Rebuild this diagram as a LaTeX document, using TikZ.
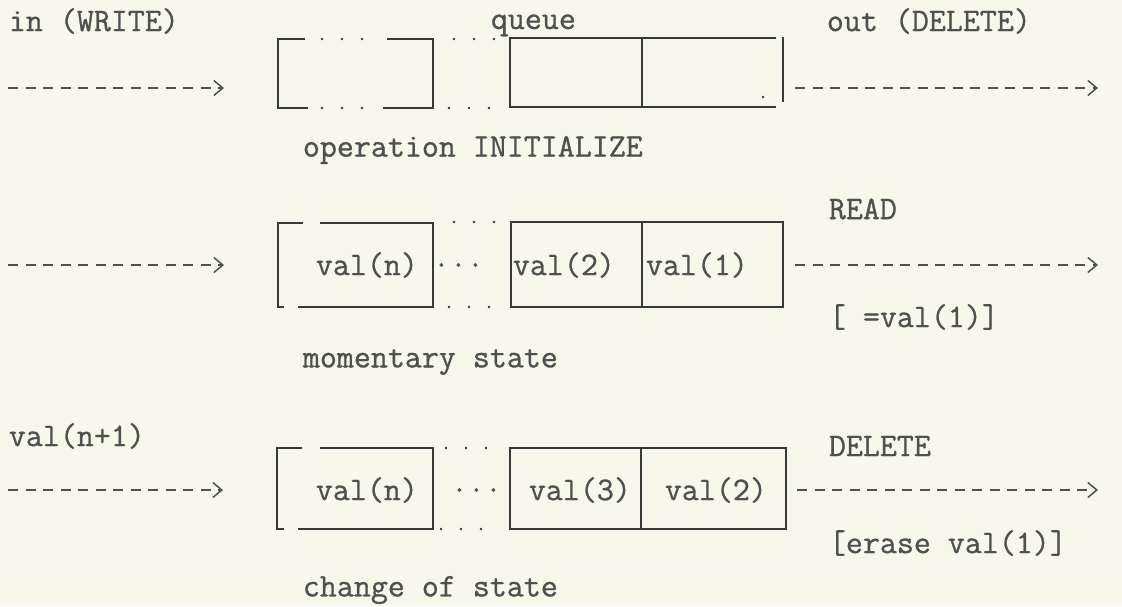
\documentclass[tikz,border=0pt]{standalone}
\usepackage{fontspec}
\setmonofont{Latin Modern Mono}[FakeBold=0.9]
\usetikzlibrary{arrows.meta}
\definecolor{paper}{HTML}{F8F7EC}
\definecolor{ink}{HTML}{383838}
\definecolor{txt}{HTML}{505050}
\begin{document}
\begin{tikzpicture}[x=1pt,y=-1pt,color=ink,line width=1.8pt,
	lbl/.style={font=\ttfamily\fontsize{33}{35}\selectfont,text=txt,inner sep=0pt,anchor=west},
	typed/.style={color=txt,line width=1.5pt,dash pattern=on 10pt off 7.5pt,-{Straight Barb[length=9pt,width=15pt,line width=1.5pt]}},
	dots/.style={line width=2.8pt,line cap=round,dash pattern=on 0pt off 20pt}]
	\fill[paper] (0,0) rectangle (1122,606);
	\useasboundingbox (0,0) rectangle (1122,606);
	% row 1: empty queue
	\node[lbl] (inW) at (8,21) {in (WRITE)};
	\node[lbl,anchor=base west] (qname) at (490,29) {queue};
	\node[lbl] (outD) at (826,21) {out (DELETE)};
	\coordinate (src1) at (8,88);
	\coordinate (qa1) at (278,88);
	\coordinate (qb1) at (783,88);
	\coordinate (snk1) at (1098,88);
	\draw (305,39) -- (278,39) -- (278,108) -- (308,108);
	\draw (387,39) -- (433,39) -- (433,108) -- (383,108);
	\draw[dots] (322,39) -- (364,39);
	\draw[dots] (322,108) -- (364,108);
	\draw[dots] (454,39) -- (496,39);
	\draw[dots] (449,108) -- (491,108);
	\draw (776,38) -- (510,38) -- (510,107) -- (776,107);
	\draw (642,38) -- (642,107);
	\draw (783,37) -- (783,102);
	\fill (763,97) circle (1.3pt);
	\draw[typed,shorten >=54pt] (src1) -- (qa1);
	\draw[typed,shorten <=12pt] (qb1) -- (snk1);
	\node[lbl] (opInit) at (302,150) {operation INITIALIZE};
	% row 2: momentary state
	\node[lbl] (rd) at (828,209) {READ};
	\coordinate (src2) at (8,265);
	\coordinate (qa2) at (278,265);
	\coordinate (qb2) at (783,265);
	\coordinate (snk2) at (1098,265);
	\draw (303,223) -- (278,223) -- (278,307) -- (284,307);
	\draw (320,223) -- (433,223) -- (433,307) -- (298,307);
	\draw[dots] (454,222) -- (496,222);
	\draw[dots] (449,307) -- (491,307);
	\draw (511,222) rectangle (783,307);
	\draw (642,222) -- (642,307);
	\node[lbl] (v2n) at (315,265) {val(n)};
	\node[lbl] (gap2) at (432,265) {...};
	\node[lbl] (v22) at (512,265) {val(2)};
	\node[lbl] (v21) at (645,265) {val(1)};
	\draw[typed,shorten >=54pt] (src2) -- (qa2);
	\draw[typed,shorten <=12pt] (qb2) -- (snk2);
	\node[lbl] (rdval) at (828,317) {[ =val(1)]};
	\node[lbl] (mom) at (302,362) {momentary state};
	% row 3: change of state
	\node[lbl] (vnew) at (8,436) {val(n+1)};
	\node[lbl] (del) at (828,446) {DELETE};
	\coordinate (src3) at (8,490);
	\coordinate (qa3) at (277,490);
	\coordinate (qb3) at (785,490);
	\coordinate (snk3) at (1098,490);
	\draw (302,448) -- (277,448) -- (277,529) -- (284,529);
	\draw (320,448) -- (433,448) -- (433,529) -- (298,529);
	\draw[dots] (446,448) -- (492,448);
	\draw[dots] (441,529) -- (491,529);
	\draw (510,448) rectangle (786,529);
	\draw (641,448) -- (641,529);
	\node[lbl] (v3n) at (315,490) {val(n)};
	\node[lbl] (gap3) at (450,490) {...};
	\node[lbl] (v33) at (528,490) {val(3)};
	\node[lbl] (v32) at (664,490) {val(2)};
	\draw[typed,shorten >=54pt] (src3) -- (qa3);
	\draw[typed,shorten <=12pt] (qb3) -- (snk3);
	\node[lbl] (erase) at (828,543) {[erase val(1)]};
	\node[lbl] (chg) at (302,590) {change of state};
\end{tikzpicture}
\end{document}
